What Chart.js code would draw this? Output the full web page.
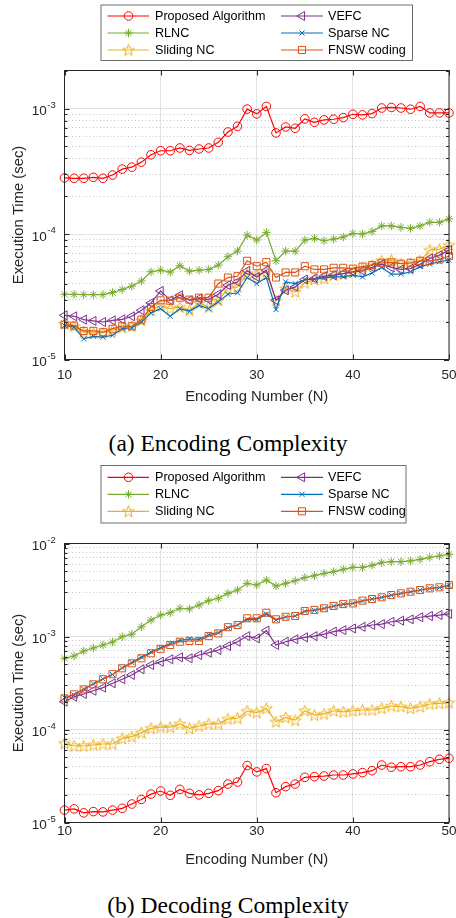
<!DOCTYPE html>
<html>
<head>
<meta charset="utf-8">
<script src="https://cdn.jsdelivr.net/npm/chart.js@4.4.1/dist/chart.umd.min.js"></script>
<style>
  body { margin: 0; background: #fff; width: 456px; height: 918px; position: relative; overflow: hidden; }
  canvas { position: absolute; left: 0; }
  .caption { position: absolute; left: 0; width: 456px; text-align: center; line-height: 28px;
    font-family: "Liberation Serif", "Times New Roman", serif; font-size: 23.5px; color: #000; }
</style>
</head>
<body>
<canvas id="encChart" width="456" height="420" style="top:0"></canvas>
<div class="caption" style="top:429px">(a) Encoding Complexity</div>
<canvas id="decChart" width="456" height="420" style="top:460px"></canvas>
<div class="caption" style="top:891px">(b) Decoding Complexity</div>
<script>
// encoding number N
const nValues = [10, 11, 12, 13, 14, 15, 16, 17, 18, 19, 20, 21, 22, 23, 24, 25, 26, 27, 28, 29, 30,
  31, 32, 33, 34, 35, 36, 37, 38, 39, 40, 41, 42, 43, 44, 45, 46, 47, 48, 49, 50];
const xTicks = [10, 20, 30, 40, 50];
const seriesNames = ['Proposed Algorithm', 'RLNC', 'Sliding NC', 'VEFC', 'Sparse NC', 'FNSW coding'];

// (a) encoding time, sec
const encProposed = [2.80e-4, 2.78e-4, 2.78e-4, 2.83e-4, 2.78e-4, 2.95e-4, 3.29e-4, 3.41e-4, 3.74e-4, 4.28e-4,
  4.61e-4, 4.61e-4, 4.85e-4, 4.64e-4, 4.76e-4, 4.85e-4, 5.38e-4, 6.50e-4, 7.22e-4, 9.90e-4,
  9.07e-4, 1.04e-3, 6.39e-4, 7.13e-4, 6.96e-4, 8.27e-4, 7.77e-4, 8.12e-4, 8.22e-4, 8.47e-4,
  9.00e-4, 8.90e-4, 9.12e-4, 1.01e-3, 1.02e-3, 1.01e-3, 9.88e-4, 1.04e-3, 9.23e-4, 9.23e-4, 9.23e-4];
const encRLNC = [3.31e-5, 3.31e-5, 3.29e-5, 3.29e-5, 3.29e-5, 3.42e-5, 3.61e-5, 3.84e-5, 4.23e-5, 5.00e-5,
  5.15e-5, 4.97e-5, 5.58e-5, 5.06e-5, 5.15e-5, 5.22e-5, 5.65e-5, 6.59e-5, 7.31e-5, 9.80e-5,
  8.95e-5, 1.03e-4, 6.12e-5, 7.31e-5, 7.31e-5, 8.95e-5, 9.23e-5, 8.84e-5, 9.12e-5, 9.46e-5,
  1.01e-4, 1.00e-4, 1.05e-4, 1.16e-4, 1.16e-4, 1.13e-4, 1.11e-4, 1.16e-4, 1.24e-4, 1.24e-4, 1.32e-4];
const encSliding = [1.93e-5, 1.84e-5, 1.65e-5, 1.63e-5, 1.63e-5, 1.71e-5, 1.79e-5, 1.84e-5, 2.05e-5, 2.47e-5,
  2.70e-5, 2.54e-5, 2.62e-5, 2.47e-5, 2.82e-5, 2.62e-5, 2.96e-5, 3.68e-5, 3.79e-5, 4.84e-5,
  4.70e-5, 5.00e-5, 2.94e-5, 3.68e-5, 3.46e-5, 4.08e-5, 4.34e-5, 4.42e-5, 4.70e-5, 4.84e-5,
  5.00e-5, 5.30e-5, 5.65e-5, 6.12e-5, 6.19e-5, 5.80e-5, 5.80e-5, 6.12e-5, 7.45e-5, 7.55e-5, 8.16e-5];
const encVEFC = [2.25e-5, 2.21e-5, 2.08e-5, 2.03e-5, 1.99e-5, 2.05e-5, 2.09e-5, 2.21e-5, 2.47e-5, 2.82e-5,
  3.52e-5, 2.96e-5, 3.25e-5, 2.96e-5, 3.06e-5, 3.00e-5, 3.31e-5, 3.91e-5, 4.16e-5, 5.09e-5,
  4.55e-5, 5.15e-5, 2.96e-5, 3.56e-5, 3.79e-5, 4.34e-5, 4.42e-5, 4.61e-5, 4.70e-5, 4.84e-5,
  5.00e-5, 5.09e-5, 5.42e-5, 5.75e-5, 5.42e-5, 5.22e-5, 5.30e-5, 5.75e-5, 6.39e-5, 6.79e-5, 7.45e-5];
const encSparse = [1.87e-5, 1.81e-5, 1.46e-5, 1.53e-5, 1.51e-5, 1.56e-5, 1.76e-5, 1.79e-5, 1.99e-5, 2.35e-5,
  2.54e-5, 2.21e-5, 2.54e-5, 2.42e-5, 2.70e-5, 2.54e-5, 2.88e-5, 3.31e-5, 3.40e-5, 4.50e-5,
  4.03e-5, 4.50e-5, 2.50e-5, 4.16e-5, 4.03e-5, 4.34e-5, 4.34e-5, 4.50e-5, 4.55e-5, 4.55e-5,
  4.70e-5, 4.55e-5, 4.90e-5, 5.42e-5, 4.79e-5, 4.79e-5, 5.00e-5, 5.50e-5, 5.75e-5, 6.01e-5, 6.19e-5];
const encFNSW = [1.90e-5, 1.86e-5, 1.69e-5, 1.69e-5, 1.65e-5, 1.76e-5, 1.84e-5, 1.84e-5, 2.08e-5, 2.62e-5,
  2.96e-5, 2.94e-5, 3.11e-5, 3.00e-5, 3.11e-5, 3.11e-5, 4.03e-5, 4.50e-5, 4.61e-5, 6.12e-5,
  5.54e-5, 5.97e-5, 4.50e-5, 4.94e-5, 4.94e-5, 5.54e-5, 5.22e-5, 5.22e-5, 5.38e-5, 5.38e-5,
  5.30e-5, 5.50e-5, 5.65e-5, 5.90e-5, 5.94e-5, 5.80e-5, 5.90e-5, 6.12e-5, 6.12e-5, 6.27e-5, 6.67e-5];

// (b) decoding time, sec
const decProposed = [1.36e-5, 1.40e-5, 1.27e-5, 1.31e-5, 1.30e-5, 1.36e-5, 1.42e-5, 1.58e-5, 1.77e-5, 2.02e-5,
  2.18e-5, 1.96e-5, 2.27e-5, 2.06e-5, 1.98e-5, 2.06e-5, 2.20e-5, 2.59e-5, 2.72e-5, 4.10e-5,
  3.50e-5, 3.80e-5, 2.09e-5, 2.43e-5, 2.59e-5, 3.06e-5, 3.11e-5, 3.16e-5, 3.24e-5, 3.24e-5,
  3.33e-5, 3.44e-5, 3.61e-5, 4.15e-5, 3.93e-5, 3.98e-5, 3.98e-5, 4.15e-5, 4.51e-5, 4.78e-5, 4.90e-5];
const decRLNC = [5.83e-4, 6.17e-4, 6.98e-4, 7.52e-4, 8.10e-4, 8.73e-4, 9.95e-4, 1.06e-3, 1.27e-3, 1.50e-3,
  1.70e-3, 1.80e-3, 2.01e-3, 1.98e-3, 2.18e-3, 2.43e-3, 2.58e-3, 2.91e-3, 3.16e-3, 3.73e-3,
  3.58e-3, 4.05e-3, 3.49e-3, 3.73e-3, 3.98e-3, 4.30e-3, 4.51e-3, 4.78e-3, 4.98e-3, 5.28e-3,
  5.54e-3, 5.54e-3, 5.82e-3, 6.22e-3, 6.37e-3, 6.37e-3, 6.49e-3, 6.76e-3, 7.10e-3, 7.34e-3, 7.65e-3];
const decSliding = [7.11e-5, 6.65e-5, 6.65e-5, 6.81e-5, 6.98e-5, 6.98e-5, 8.03e-5, 8.38e-5, 9.25e-5, 1.03e-4,
  1.06e-4, 1.06e-4, 1.15e-4, 1.03e-4, 1.09e-4, 1.15e-4, 1.15e-4, 1.30e-4, 1.32e-4, 1.58e-4,
  1.52e-4, 1.69e-4, 1.21e-4, 1.35e-4, 1.26e-4, 1.59e-4, 1.43e-4, 1.47e-4, 1.59e-4, 1.55e-4,
  1.59e-4, 1.62e-4, 1.62e-4, 1.69e-4, 1.79e-4, 1.76e-4, 1.69e-4, 1.76e-4, 1.88e-4, 1.91e-4, 1.94e-4];
const decVEFC = [1.99e-4, 2.25e-4, 2.41e-4, 2.61e-4, 2.82e-4, 3.14e-4, 3.47e-4, 3.86e-4, 4.44e-4, 4.94e-4,
  5.36e-4, 5.69e-4, 5.97e-4, 5.83e-4, 6.32e-4, 6.70e-4, 7.16e-4, 7.90e-4, 8.79e-4, 1.01e-3,
  9.55e-4, 1.16e-3, 8.10e-4, 8.79e-4, 9.33e-4, 9.80e-4, 1.01e-3, 1.06e-3, 1.13e-3, 1.17e-3,
  1.22e-3, 1.27e-3, 1.33e-3, 1.36e-3, 1.44e-3, 1.48e-3, 1.53e-3, 1.61e-3, 1.66e-3, 1.70e-3, 1.75e-3];
const decSparse = [2.20e-4, 2.36e-4, 2.72e-4, 3.10e-4, 3.50e-4, 3.90e-4, 4.60e-4, 5.25e-4, 6.00e-4, 6.80e-4,
  7.60e-4, 8.40e-4, 9.10e-4, 9.40e-4, 9.30e-4, 1.05e-3, 1.10e-3, 1.24e-3, 1.33e-3, 1.52e-3,
  1.52e-3, 1.74e-3, 1.50e-3, 1.62e-3, 1.66e-3, 1.86e-3, 1.91e-3, 2.00e-3, 2.12e-3, 2.22e-3,
  2.27e-3, 2.41e-3, 2.52e-3, 2.63e-3, 2.77e-3, 2.90e-3, 3.02e-3, 3.15e-3, 3.28e-3, 3.36e-3, 3.55e-3];
const decFNSW = [2.16e-4, 2.39e-4, 2.70e-4, 3.06e-4, 3.47e-4, 3.93e-4, 4.55e-4, 5.15e-4, 5.83e-4, 6.60e-4,
  7.37e-4, 8.10e-4, 8.79e-4, 8.95e-4, 8.95e-4, 1.01e-3, 1.08e-3, 1.26e-3, 1.33e-3, 1.57e-3,
  1.57e-3, 1.80e-3, 1.53e-3, 1.63e-3, 1.66e-3, 1.88e-3, 1.93e-3, 2.01e-3, 2.13e-3, 2.24e-3,
  2.27e-3, 2.43e-3, 2.53e-3, 2.64e-3, 2.79e-3, 2.91e-3, 3.03e-3, 3.16e-3, 3.30e-3, 3.38e-3, 3.58e-3];

const encDecades = [1e-5, 1e-4, 1e-3];
const decDecades = [1e-5, 1e-4, 1e-3, 1e-2];

const AXIS = '#262626';
const SANS = '"Liberation Sans", Arial, Helvetica, sans-serif';

function makePentagram(color) {
  const c = document.createElement('canvas');
  c.width = c.height = 15;
  const g = c.getContext('2d');
  g.strokeStyle = color;
  g.lineWidth = 1;
  g.beginPath();
  for (let k = 0; k < 10; k++) {
    const r = k % 2 ? 2.5 : 6.2;
    const ang = -Math.PI / 2 + k * Math.PI / 5;
    const px = 7.5 + r * Math.cos(ang), py = 8 + r * Math.sin(ang);
    if (k) g.lineTo(px, py); else g.moveTo(px, py);
  }
  g.closePath();
  g.stroke();
  return c;
}

const styles = [
  { color: '#ff0000', pointStyle: 'circle', radius: 4.3, rotation: 0 },
  { color: '#77ac30', pointStyle: 'star', radius: 4.2, rotation: 0 },
  { color: '#edb120', pointStyle: makePentagram('#edb120'), radius: 6, rotation: 0 },
  { color: '#7e2f8e', pointStyle: 'triangle', radius: 5.2, rotation: -90 },
  { color: '#0072bd', pointStyle: 'crossRot', radius: 3.6, rotation: 0 },
  { color: '#d95319', pointStyle: 'rect', radius: 5, rotation: 0 }
];

const isDecade = v => Math.abs(Math.log10(v) - Math.round(Math.log10(v))) < 1e-6;

function buildYTicks(decades, max) {
  const out = [];
  decades.forEach(d => {
    for (let k = 1; k <= 9; k++) {
      const v = d * k;
      if (v <= max * 1.0001) out.push(v);
    }
  });
  return out;
}

// frame, inward ticks, tick labels, axis titles and the boxed legend (MATLAB look)
const matlabAxes = {
  id: 'matlabAxes',
  afterDraw(chart, args, o) {
    const { ctx, chartArea: a, scales: { x, y } } = chart;
    ctx.save();
    ctx.strokeStyle = AXIS;
    ctx.lineWidth = 1;
    ctx.beginPath();
    xTicks.forEach(v => {
      const px = Math.round(x.getPixelForValue(v)) + 0.5;
      ctx.moveTo(px, a.bottom); ctx.lineTo(px, a.bottom - 5);
      ctx.moveTo(px, a.top); ctx.lineTo(px, a.top + 5);
    });
    y.ticks.forEach(t => {
      const py = Math.round(y.getPixelForValue(t.value)) + 0.5;
      const len = isDecade(t.value) ? 5 : 3;
      ctx.moveTo(a.left, py); ctx.lineTo(a.left + len, py);
      ctx.moveTo(a.right, py); ctx.lineTo(a.right - len, py);
    });
    ctx.stroke();
    ctx.strokeRect(a.left, a.top, a.right - a.left, a.bottom - a.top);

    ctx.fillStyle = AXIS;
    ctx.font = '13.5px ' + SANS;
    ctx.textAlign = 'center';
    ctx.textBaseline = 'middle';
    xTicks.forEach(v => ctx.fillText(String(v), x.getPixelForValue(v), o.tickLabelY));

    o.decades.forEach(d => {
      const py = y.getPixelForValue(d);
      ctx.font = '13.5px ' + SANS;
      ctx.textAlign = 'right';
      ctx.fillText('10', 46.8, py + 3);
      ctx.font = '9.5px ' + SANS;
      ctx.textAlign = 'left';
      ctx.fillText(String(Math.round(Math.log10(d))), 47.3, py - 3.5);
    });

    ctx.font = '14.8px ' + SANS;
    ctx.textAlign = 'center';
    ctx.fillText(o.xTitle, (a.left + a.right) / 2, o.xTitleY);
    ctx.save();
    ctx.translate(18.5, (a.top + a.bottom) / 2);
    ctx.rotate(-Math.PI / 2);
    ctx.fillText(o.yTitle, 0, 0);
    ctx.restore();

    // legend box, two columns of three
    const L = o.legend;
    ctx.fillStyle = '#fff';
    ctx.fillRect(L.left, L.top, L.width, L.height);
    ctx.strokeStyle = '#6e6e6e';
    ctx.strokeRect(L.left + 0.5, L.top + 0.5, L.width, L.height);
    const cols = [{ x0: 107.5, x1: 149, mk: 128.5, tx: 155 }, { x0: 281, x1: 323, mk: 302, tx: 328 }];
    chart.data.datasets.forEach((ds, i) => {
      const c = cols[Math.floor(i / 3)];
      const ry = L.top + L.firstRow + (i % 3) * 17;
      ctx.strokeStyle = ds.borderColor;
      ctx.lineWidth = 1.2;
      ctx.beginPath();
      ctx.moveTo(c.x0, ry); ctx.lineTo(c.x1, ry);
      ctx.stroke();
      ctx.fillStyle = 'rgba(0,0,0,0)';
      ctx.lineWidth = 1;
      Chart.helpers.drawPoint(ctx, {
        pointStyle: ds.pointStyle, radius: ds.pointRadius,
        rotation: ds.pointRotation, borderWidth: 1
      }, c.mk, ry);
      ctx.fillStyle = '#000';
      ctx.font = '12.6px ' + SANS;
      ctx.textAlign = 'left';
      ctx.textBaseline = 'middle';
      ctx.fillText(ds.label, c.tx, ry + 0.5);
    });
    ctx.restore();
  }
};

function makeChart(id, series, decades, yMax, pad, opts) {
  const yTicks = buildYTicks(decades, yMax);
  return new Chart(document.getElementById(id), {
    type: 'line',
    data: {
      labels: nValues,
      datasets: series.map((values, i) => ({
        label: seriesNames[i],
        data: nValues.map((n, j) => ({ x: n, y: values[j] })),
        borderColor: styles[i].color,
        backgroundColor: 'rgba(0,0,0,0)',
        pointBorderColor: styles[i].color,
        pointBackgroundColor: 'rgba(0,0,0,0)',
        pointStyle: styles[i].pointStyle,
        pointRadius: styles[i].radius,
        pointRotation: styles[i].rotation,
        pointBorderWidth: 1,
        borderWidth: 1.2,
        tension: 0,
        clip: false,
        order: series.length - 1 - i
      }))
    },
    options: {
      responsive: false,
      animation: false,
      devicePixelRatio: 1,
      events: [],
      layout: { padding: pad },
      plugins: {
        legend: { display: false },
        tooltip: { enabled: false },
        matlabAxes: opts
      },
      scales: {
        x: {
          type: 'linear',
          min: 10,
          max: 50,
          afterBuildTicks: axis => { axis.ticks = xTicks.map(v => ({ value: v })); },
          ticks: { display: false },
          grid: { color: '#e2e2e2', lineWidth: 1, drawTicks: false },
          border: { display: false }
        },
        y: {
          type: 'logarithmic',
          min: decades[0],
          max: yMax,
          afterBuildTicks: axis => { axis.ticks = yTicks.map(v => ({ value: v })); },
          ticks: { display: false },
          grid: {
            drawTicks: false,
            lineWidth: 1,
            color: c => isDecade(c.tick.value) ? '#e2e2e2' : '#c4c4c4'
          },
          border: { display: false, dash: c => (c.tick && !isDecade(c.tick.value)) ? [1, 2.5] : [] }
        }
      }
    },
    plugins: [matlabAxes]
  });
}

makeChart('encChart',
  [encProposed, encRLNC, encSliding, encVEFC, encSparse, encFNSW],
  encDecades, 2.01e-3,
  { left: 64.5, right: 5.5, top: 70.5, bottom: 60.5 },
  {
    decades: encDecades, tickLabelY: 375, xTitleY: 396.5,
    xTitle: 'Encoding Number (N)', yTitle: 'Execution Time (sec)',
    legend: { left: 100.5, top: 4.5, width: 311.5, height: 55.5, firstRow: 11.5 }
  });

makeChart('decChart',
  [decProposed, decRLNC, decSliding, decVEFC, decSparse, decFNSW],
  decDecades, 1e-2,
  { left: 64.5, right: 5.5, top: 83.5, bottom: 57.5 },
  {
    decades: decDecades, tickLabelY: 371.5, xTitleY: 400,
    xTitle: 'Encoding Number (N)', yTitle: 'Execution Time (sec)',
    legend: { left: 100.5, top: 5, width: 305, height: 57.5, firstRow: 12.3 }
  });
</script>
</body>
</html>
